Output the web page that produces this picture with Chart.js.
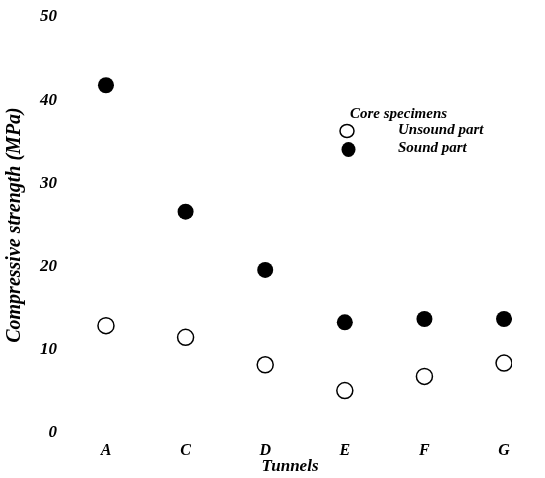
<!DOCTYPE html>
<html>
<head>
<meta charset="utf-8">
<script src="https://cdn.jsdelivr.net/npm/chart.js@4/dist/chart.umd.min.js"></script>
<style>
   html, body { margin: 0; padding: 0; background: #fff; }
   #wrap { width: 545px; height: 478px; }
</style>
</head>
<body>
<div id="wrap"><canvas id="strengthChart"></canvas></div>
<script>
const tunnels = ["A", "C", "D", "E", "F", "G"];
const unsoundPart = [12.9, 11.5, 8.2, 5.1, 6.8, 8.4];
const soundPart = [41.8, 26.6, 19.6, 13.3, 13.7, 13.7];
const yTicks = [0, 10, 20, 30, 40, 50];

const serif = "'Liberation Serif', 'Times New Roman', serif";

function toPoints(values) {
   return values.map((value, index) => ({ x: index, y: value }));
}

// legend box sits inside the plot, top right
const legendPlugin = {
   id: "coreLegend",
   afterDraw(chart) {
      const { ctx } = chart;
      ctx.save();
      ctx.fillStyle = "#000";
      ctx.textBaseline = "middle";
      ctx.font = `italic bold 15px ${serif}`;
      ctx.fillText("Core specimens", 350, 114);
      ctx.fillText("Unsound part", 398, 130);
      ctx.fillText("Sound part", 398, 148);

      ctx.beginPath();
      ctx.ellipse(347, 131, 7, 6.5, 0, 0, Math.PI * 2);
      ctx.fillStyle = "#fff";
      ctx.fill();
      ctx.lineWidth = 1.5;
      ctx.strokeStyle = "#000";
      ctx.stroke();

      ctx.beginPath();
      ctx.ellipse(348.5, 149.5, 7, 7.5, 0, 0, Math.PI * 2);
      ctx.fillStyle = "#000";
      ctx.fill();
      ctx.restore();
   }
};

new Chart(document.getElementById("strengthChart"), {
   type: "scatter",
   data: {
      datasets: [
         {
            label: "Unsound part",
            data: toPoints(unsoundPart),
            pointRadius: 8,
            pointBackgroundColor: "#fff",
            pointBorderColor: "#000",
            pointBorderWidth: 1.5
         },
         {
            label: "Sound part",
            data: toPoints(soundPart),
            pointRadius: 8,
            pointBackgroundColor: "#000",
            pointBorderColor: "#000",
            pointBorderWidth: 0
         }
      ]
   },
   options: {
      responsive: true,
      maintainAspectRatio: false,
      animation: false,
      layout: {
         padding: { top: 17, right: 33, left: 0, bottom: 0 }
      },
      plugins: {
         legend: { display: false },
         tooltip: { enabled: false }
      },
      scales: {
         x: {
            type: "linear",
            min: -0.477,
            max: 5.1,
            grid: { display: false },
            border: { display: false },
            afterFit(scale) {
               scale.height = 45;
            },
            ticks: {
               stepSize: 1,
               includeBounds: false,
               padding: 0,
               color: "#000",
               font: { family: serif, size: 16, style: "italic", weight: "bold" },
               callback(value) {
                  return tunnels[value] ?? "";
               }
            },
            title: {
               display: true,
               text: "Tunnels",
               color: "#000",
               padding: { top: 0, bottom: 1 },
               font: { family: serif, size: 17, style: "italic", weight: "bold" }
            }
         },
         y: {
            min: 0,
            max: 50,
            grid: { display: false },
            border: { display: false },
            afterFit(scale) {
               scale.width = 68;
            },
            afterBuildTicks(scale) {
               scale.ticks = yTicks.map((value) => ({ value }));
            },
            ticks: {
               padding: 3,
               color: "#000",
               font: { family: serif, size: 17, style: "italic", weight: "bold" }
            },
            title: {
               display: true,
               text: "Compressive strength (MPa)",
               color: "#000",
               padding: { top: 3, bottom: 0 },
               font: { family: serif, size: 20, style: "italic", weight: "bold" }
            }
         }
      }
   },
   plugins: [legendPlugin]
});
</script>
</body>
</html>
